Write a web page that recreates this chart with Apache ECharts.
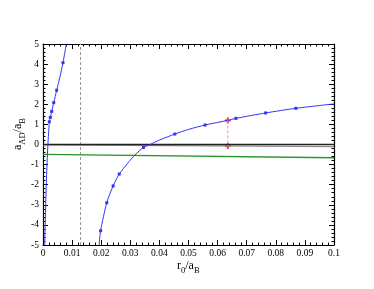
<!DOCTYPE html>
<html>
<head>
<meta charset="utf-8">
<script src="https://cdn.jsdelivr.net/npm/echarts@6/dist/echarts.min.js"></script>
<style>html,body{margin:0;padding:0;background:#fff}#c{width:374px;height:289px}</style>
</head>
<body>
<div id="c"></div>
<script>
// ---- data ----
var xTicks = [0, 0.01, 0.02, 0.03, 0.04, 0.05, 0.06, 0.07, 0.08, 0.09, 0.1];
var yTicks = [-5, -4, -3, -2, -1, 0, 1, 2, 3, 4, 5];
// blue curve, branch below the resonance
var leftX = [0.0006, 0.0008, 0.0011, 0.0014, 0.0017, 0.002, 0.00217, 0.00251, 0.003, 0.00368, 0.0047, 0.0058, 0.00687, 0.008];
var leftY = [-5, -3.75, -2.1, -0.9, 0.05, 0.75, 1.13, 1.35, 1.65, 2.08, 2.70, 3.35, 4.07, 5];
// blue curve, branch above the resonance
var rightX = [0.0193, 0.0198, 0.0219, 0.0241, 0.0262, 0.029, 0.0316, 0.0345, 0.0368, 0.040, 0.0453, 0.050, 0.0557, 0.0635, 0.0663, 0.0765, 0.0869, 0.1];
var rightY = [-5, -4.29, -2.9, -2.06, -1.47, -0.95, -0.52, -0.15, 0, 0.22, 0.52, 0.75, 0.97, 1.2, 1.3, 1.57, 1.8, 2.02];
// blue markers
var dotX = [0.00217, 0.00251, 0.003, 0.00368, 0.0047, 0.00687, 0.0198, 0.0219, 0.0241, 0.0262, 0.0345, 0.0453, 0.0557, 0.0663, 0.0765, 0.0869];
var dotY = [1.13, 1.35, 1.65, 2.08, 2.70, 4.07, -4.29, -2.9, -2.06, -1.47, -0.15, 0.52, 0.97, 1.3, 1.57, 1.8];
// straight lines
var blackX = [0, 0.1], blackY = [0, 0];
var grayX = [0, 0.1], grayY = [-0.02, -0.11];
var greenX = [0, 0.1], greenY = [-0.49, -0.66];
// resonance position (dashed vertical)
var resX = 0.0129;
// red highlighted points
var redX = [0.0635, 0.0635], redY = [1.2, -0.07];

function pairs(xs, ys) { return xs.map(function (x, i) { return [x, ys[i]]; }); }

var FONT = 'Liberation Serif';
var tickStyle = { show: true, inside: true, length: 5, lineStyle: { color: '#000', width: 1 } };
var minorStyle = { show: true, splitNumber: 5, length: 2.5, lineStyle: { color: '#000', width: 1 } };
var richStyle = {
  a: { fontFamily: FONT, fontSize: 12, color: '#000', lineHeight: 15, verticalAlign: 'top' },
  s: { fontFamily: FONT, fontSize: 8.5, color: '#000', lineHeight: 15, verticalAlign: 'bottom' }
};

var chart = echarts.init(document.getElementById('c'), null, { renderer: 'canvas' });
chart.setOption({
  backgroundColor: '#fff',
  animation: false,
  grid: { left: 43, right: 40, top: 44, bottom: 44, show: false },
  xAxis: [{
    type: 'value', min: 0, max: 0.1, interval: 0.01, position: 'bottom',
    axisLine: { show: true, onZero: false, lineStyle: { color: '#000', width: 1.2 } },
    axisTick: tickStyle, minorTick: minorStyle, splitLine: { show: false },
    axisLabel: { fontFamily: FONT, fontSize: 9.5, color: '#000', margin: 3,
      formatter: function (v) { return String(Math.round(v * 100) / 100); } }
  }, {
    type: 'value', min: 0, max: 0.1, interval: 0.01, position: 'top',
    axisLine: { show: true, onZero: false, lineStyle: { color: '#000', width: 1.2 } },
    axisTick: tickStyle, minorTick: minorStyle, splitLine: { show: false },
    axisLabel: { show: false }
  }],
  yAxis: [{
    type: 'value', min: -5, max: 5, interval: 1, position: 'left',
    axisLine: { show: true, onZero: false, lineStyle: { color: '#000', width: 1.2 } },
    axisTick: tickStyle, minorTick: minorStyle, splitLine: { show: false },
    axisLabel: { fontFamily: FONT, fontSize: 9.5, color: '#000', margin: 4,
      formatter: function (v) { return String(Math.round(v)); } }
  }, {
    type: 'value', min: -5, max: 5, interval: 1, position: 'right',
    axisLine: { show: true, onZero: false, lineStyle: { color: '#000', width: 1.2 } },
    axisTick: tickStyle, minorTick: minorStyle, splitLine: { show: false },
    axisLabel: { show: false }
  }],
  graphic: [{
    type: 'text', left: 177, top: 260,
    style: { text: '{a|r}{s|0}{a|/a}{s|B}', fontFamily: FONT, rich: richStyle }
  }, {
    type: 'text', x: 12, y: 150, rotation: Math.PI / 2,
    style: { text: '{a|a}{s|AD}{a|/a}{s|B}', fontFamily: FONT, rich: richStyle }
  }],
  series: [
    { type: 'line', data: [[resX, -5], [resX, 5]], symbol: 'none', silent: true,
      lineStyle: { color: '#999', width: 1, type: [3, 2] } },
    { type: 'line', data: pairs(grayX, grayY), symbol: 'none', lineStyle: { color: '#8c8c8c', width: 1.3 } },
    { type: 'line', data: pairs(blackX, blackY), symbol: 'none', lineStyle: { color: '#222', width: 1.3 } },
    { type: 'line', data: pairs(greenX, greenY), symbol: 'none', lineStyle: { color: '#2a962a', width: 1.3 } },
    { type: 'line', data: pairs(leftX, leftY), symbol: 'none', smooth: 0.25, lineStyle: { color: '#3333ff', width: 1 } },
    { type: 'line', data: pairs(rightX, rightY), symbol: 'none', smooth: 0.25, lineStyle: { color: '#3333ff', width: 1 } },
    { type: 'scatter', data: pairs(dotX, dotY), symbol: 'rect', symbolSize: 3, itemStyle: { color: '#0000ee' } },
    { type: 'line', data: pairs(redX, redY), symbol: 'none', lineStyle: { color: '#ee82ee', width: 1, type: [3, 2] } },
    { type: 'scatter', data: pairs(redX, redY), symbol: 'path://M-1,-3H1V-1H3V1H1V3H-1V1H-3V-1H-1Z', symbolSize: 6, itemStyle: { color: '#ff0000' } }
  ]
});
</script>
</body>
</html>
